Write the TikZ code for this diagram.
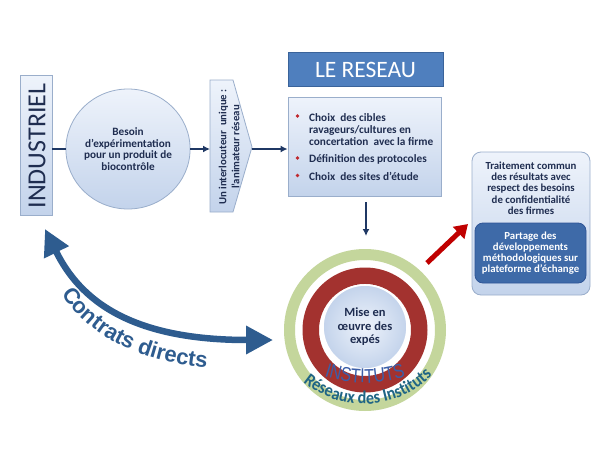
\documentclass[tikz,border=0pt]{standalone}
\usepackage{fontspec}
\setmainfont{Carlito}
\newfontfamily\lsans{Liberation Sans}
\newfontfamily\narrowsans[FakeStretch=0.8]{Liberation Sans}
\newfontfamily\carlnarrow[FakeStretch=0.9]{Carlito}
\usetikzlibrary{arrows.meta,decorations.text,shapes.geometric}
\definecolor{navy}{HTML}{1F2D50}
\definecolor{arrowblue}{HTML}{1F3864}
\definecolor{boxtop}{HTML}{EEF3FB}
\definecolor{boxbot}{HTML}{C3D3EB}
\definecolor{boxedge}{HTML}{9AAECB}
\definecolor{headblue}{HTML}{4F7FBE}
\definecolor{headedge}{HTML}{3A639A}
\definecolor{darkbox}{HTML}{3E6AA8}
\definecolor{darkedge}{HTML}{2F5597}
\definecolor{ringgreen}{HTML}{C4D69C}
\definecolor{ringred}{HTML}{A3322F}
\definecolor{contratblue}{HTML}{2E5C8F}
\definecolor{instblue}{HTML}{3B5EA8}
\definecolor{reseauteal}{HTML}{1F6585}
\definecolor{bulletred}{HTML}{C0282D}
\definecolor{redarrow}{HTML}{C00000}
\begin{document}
\begin{tikzpicture}[x=1pt,y=-1pt,
  panel/.style={draw=boxedge, line width=0.8pt, top color=boxtop, bottom color=boxbot},
  conn/.style={draw=arrowblue, line width=1.6pt, -{Latex[length=7pt,width=7pt]}},
  plainconn/.style={draw=arrowblue, line width=1.6pt},
  btxt/.style={font=\bfseries\fontsize{11.3}{12.5}\selectfont, text=navy, inner sep=0pt, anchor=base west},
  ctxt/.style={font=\bfseries\fontsize{11.2}{11.6}\selectfont, text=navy, align=center, inner sep=0pt},
  bulletdot/.style={circle, fill=bulletred, inner sep=0pt, minimum size=3.6pt}
]
\fill[white] (0,0) rectangle (600,450);
\useasboundingbox (0,0) rectangle (600,450);

% INDUSTRIEL
\node[panel, minimum width=32pt, minimum height=140pt, inner sep=0pt] (ind) at (36,145) {};
\node[rotate=90, font=\fontsize{26}{26}\selectfont, text=navy, inner sep=0pt] (indtxt) at (37,146) {INDUSTRIEL};

% Besoin circle
\node[ellipse, panel, minimum width=124pt, minimum height=120pt, inner sep=0pt, ctxt] (besoin) at (128,149)
  {Besoin\\d’expérimentation\\pour un produit de\\biocontrôle};

% pentagon
\draw[panel] (210,80) -- (233,80) -- (252,147) -- (233,212) -- (210,212) -- cycle;
\coordinate (pentL) at (210,147);
\coordinate (pentR) at (252,147);
\node[rotate=90, font=\bfseries\fontsize{10.8}{13}\selectfont, text=navy, align=center, inner sep=0pt] (pent) at (229,147)
  {Un interlocuteur~ unique :\\l’animateur réseau};

% LE RESEAU
\node[draw=headedge, line width=0.8pt, fill=headblue, minimum width=155pt, minimum height=34pt, inner sep=0pt,
  font=\fontsize{23.5}{24}\selectfont, text=white] (head) at (365.5,69.5) {LE RESEAU};

% bullet box
\node[panel, minimum width=153pt, minimum height=99pt, inner sep=0pt] (bul) at (364.5,146.5) {};
\node[bulletdot] (b1) at (297.5,116) {};
\node[bulletdot] (b2) at (297.5,158) {};
\node[bulletdot] (b3) at (297.5,175.5) {};
\node[btxt] (l1) at (309,121) {Choix~ des cibles};
\node[btxt] (l2) at (309,133) {ravageurs/cultures en};
\node[btxt] (l3) at (309,145.5) {concertation~ avec la firme};
\node[btxt] (l4) at (309,162.5) {Définition des protocoles};
\node[btxt] (l5) at (309,180) {Choix~ des sites d’étude};

% connectors top row
\draw[plainconn] (ind.east |- besoin.west) -- (besoin.west);
\draw[conn] (besoin.east) -- (pentL |- besoin.east);
\draw[conn] (pentR |- besoin.east) -- (bul.west |- besoin.east);
\coordinate (downend) at (366,236);
\draw[conn] ([yshift=-6pt]bul.south -| downend) -- (downend);

% rings
\coordinate (rc) at (365,330);
\fill[ringgreen, even odd rule] (rc) circle[radius=81pt] circle[radius=70pt];
\fill[ringred, even odd rule] (rc) circle[radius=62.5pt] circle[radius=46pt];
\node[circle, draw=white, line width=1.6pt, inner color=boxtop, outer color=boxbot, minimum size=84pt, inner sep=0pt,
  font=\bfseries\fontsize{12.5}{13.5}\selectfont, text=navy, align=center] (mise) at (365,327)
  {Mise en\\œuvre des\\expés};

\path[decorate, decoration={text along path, text align=center, text color=instblue,
  text={|\narrowsans\fontsize{20}{20}\selectfont|INSTITUTS}}]
  (316.3,373.5) .. controls (347.5,386.1) and (382.5,386.1) .. (413.7,373.5);

\path[decorate, decoration={text along path, text align=center, text color=reseauteal,
  text={|\carlnarrow\bfseries\fontsize{18}{18}\selectfont|Réseaux des Instituts}}]
  (291.2,370.1) .. controls (310.4,392.9) and (339.2,405.5) .. (369.0,403.9)
  .. controls (398.8,402.3) and (426.1,386.8) .. (442.8,362.1);

% red arrow
\coordinate (ra1) at (427,263);
\coordinate (ra2) at (468,224);
\draw[redarrow, line width=5pt, -{Triangle[length=13pt,width=16pt]}] (ra1) -- (ra2);

% right box
\node[panel, rounded corners=9pt, minimum width=118pt, minimum height=143pt, inner sep=0pt] (res) at (531,223.5) {};
\node[ctxt, font=\bfseries\fontsize{10.8}{11.3}\selectfont, anchor=north] (restxt) at (531,161.5)
  {Traitement commun\\des résultats avec\\respect des besoins\\de confidentialité\\des firmes};
\node[draw=darkedge, line width=0.8pt, fill=darkbox, rounded corners=8pt, minimum width=111pt, minimum height=60pt,
  inner sep=0pt, font=\bfseries\fontsize{10.8}{10.8}\selectfont, text=white, align=center] (share) at (530.5,253)
  {Partage des\\développements\\méthodologiques sur\\plateforme d’échange};

% Contrats directs
\coordinate (ca) at (45,229);
\coordinate (cb) at (273,340);
\draw[contratblue, line width=6.5pt, {Triangle[length=26pt,width=26pt]}-{Triangle[length=27pt,width=27pt]}]
  (ca) .. controls (80,300) and (130,340) .. (cb);
\path[decorate, decoration={text along path, text align=center, text color=contratblue,
  text={|\lsans\bfseries\fontsize{22}{22}\selectfont|Contrats directs}}]
  (57,287) .. controls (78,322) and (120,362) .. (215,368);
\end{tikzpicture}
\end{document}
